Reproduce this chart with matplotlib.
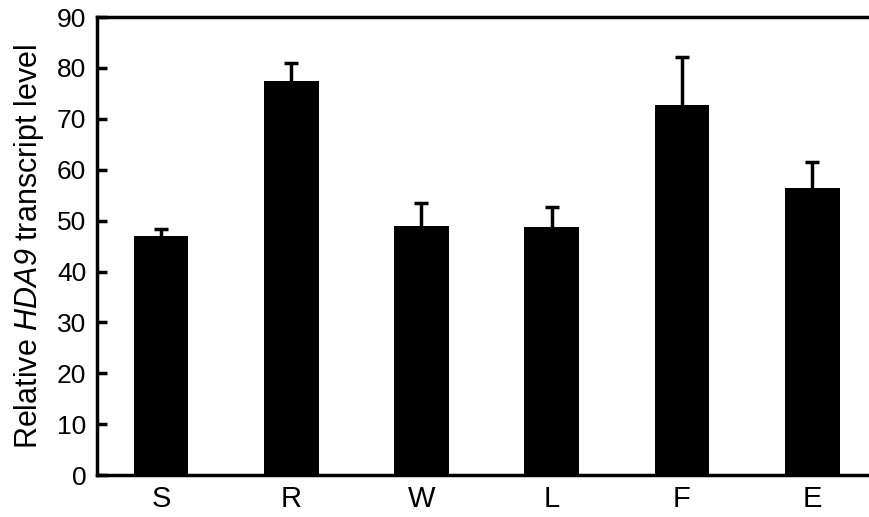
import matplotlib
matplotlib.use('Agg')
from matplotlib import pyplot as plt

plt.rcParams['font.family'] = ['Liberation Sans', 'DejaVu Sans']
# italic gene name including the digit
plt.rcParams['mathtext.fontset'] = 'custom'
plt.rcParams['mathtext.rm'] = 'Liberation Sans:italic'
plt.rcParams['mathtext.it'] = 'Liberation Sans:italic'

tissues = ['S', 'R', 'W', 'L', 'F', 'E']
levels = [46.9, 77.5, 48.9, 48.7, 72.7, 56.4]
errors = [1.5, 3.5, 4.6, 4.0, 9.5, 5.2]

fig, ax = plt.subplots(figsize=(8.7, 5.17), dpi=100)
fig.subplots_adjust(left=0.112, right=1.005, top=0.967, bottom=0.081)

x = range(len(tissues))
ax.bar(x, levels, width=0.42, color='black')
eb = ax.errorbar(x, levels, yerr=[[0] * len(errors), errors], fmt='none',
                 ecolor='black', elinewidth=2.5, capsize=5, capthick=2.5)
eb[1][0].set_visible(False)  # hide the lower caps

ax.set_xlim(-0.488, 5.477)
ax.set_ylim(0, 90)
ax.set_yticks(range(0, 91, 10))
ax.set_xticks(list(x))
ax.set_xticklabels(tissues)
ax.tick_params(axis='y', direction='in', length=7, width=2.5, labelsize=19, pad=8)
ax.tick_params(axis='x', length=0, labelsize=21, pad=7)
ax.set_ylabel(r'Relative $HDA9$ transcript level', fontsize=22, labelpad=8)

for side in ['left', 'bottom', 'top']:
    ax.spines[side].set_linewidth(2.5)
ax.spines['right'].set_visible(False)

plt.savefig('out.png')
